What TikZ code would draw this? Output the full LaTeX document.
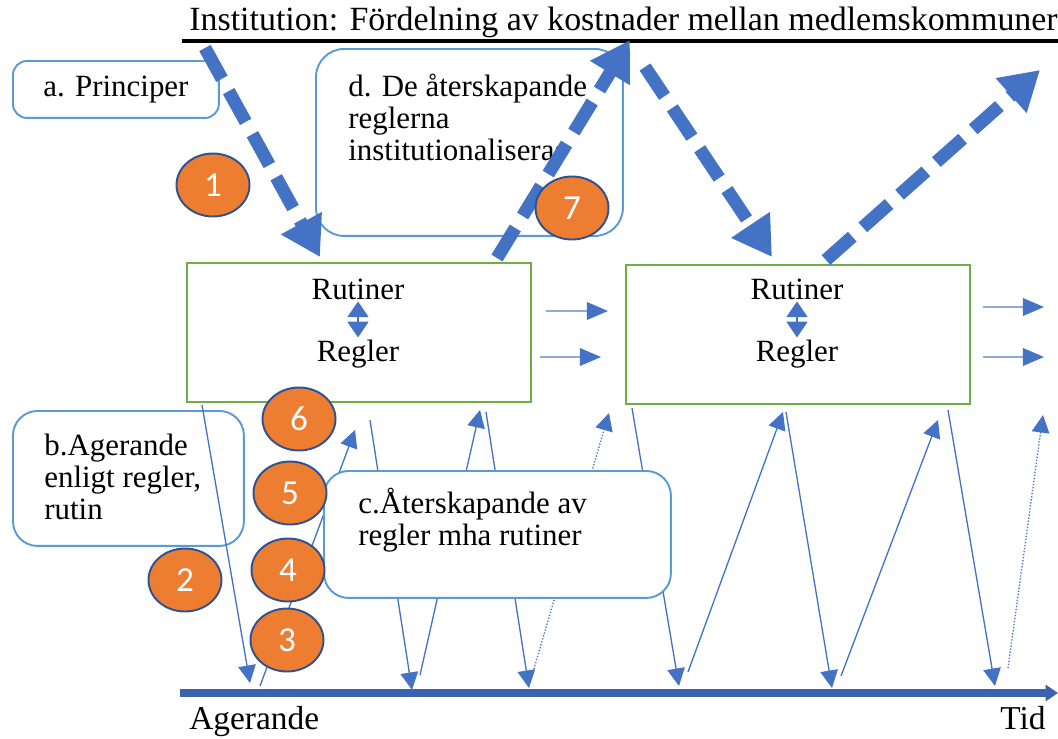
\documentclass[tikz,border=0pt]{standalone}
\usepackage{fontspec}
\setmainfont{Liberation Serif}
\newfontfamily\numfont{Carlito}
\usetikzlibrary{arrows.meta,shapes.geometric}

\definecolor{accblue}{HTML}{4472C4}
\definecolor{paleblue}{HTML}{8FAADC}
\definecolor{boxblue}{HTML}{5B9BD5}
\definecolor{boxgreen}{HTML}{70AD47}
\definecolor{numorange}{HTML}{ED7D31}
\definecolor{numedge}{HTML}{2F528F}
\definecolor{axisblue}{HTML}{3A62AE}

\newcommand{\boxsize}{\fontsize{17.6}{18.1}\selectfont}

\begin{document}
\begin{tikzpicture}[x=0.02cm, y=-0.02cm,
    info/.style = {draw=boxblue, line width=1.1pt, fill=white, rounded corners=14pt, anchor=north west, inner sep=0pt, font=\boxsize},
    boxtext/.style = {anchor=north west, inner sep=0pt, align=left, font=\boxsize},
    state/.style = {draw=boxgreen, line width=1.4pt, anchor=north west, minimum width=6.88cm, minimum height=2.78cm},
    lbl/.style = {anchor=base, inner sep=1pt, font=\boxsize},
    num/.style = {ellipse, draw=numedge, line width=1.1pt, fill=numorange, minimum width=1.46cm, minimum height=1.26cm, inner sep=0pt, text=white, font=\numfont\fontsize{20}{20}\selectfont},
    bigdash/.style = {draw=accblue, line width=7.4pt, dash pattern=on 20pt off 8pt, -{Triangle[length=22pt,width=25pt]}},
    zig/.style = {draw=accblue, line width=0.75pt, -{Triangle[length=10pt,width=10pt]}},
    rightflow/.style = {draw=paleblue, line width=1pt, -{Triangle[length=12pt,width=10pt,color=accblue]}},
    dbl/.style = {draw=accblue, line width=0.9pt, {Triangle[length=9pt,width=12pt]}-{Triangle[length=9pt,width=12pt]}}]

    \path[fill=white, use as bounding box] (0,0) rectangle (1058,738);

    % title
    \node[anchor=base west, inner sep=0pt, font=\fontsize{19.3}{20}\selectfont] (title) at (189,30) {Institution: Fördelning av kostnader mellan medlemskommuner};
    \coordinate (ul1) at (182,41);
    \coordinate (ul2) at (1058,41);
    \draw[line width=1.8pt] (ul1) -- (ul2);

    % time axis
    \coordinate (ax0) at (180,693);
    \coordinate (ax1) at (1058,693);
    \draw[axisblue, line width=4.2pt, -{Triangle[length=7pt,width=9pt]}] (ax0) -- (ax1);
    \node[anchor=base west, inner sep=0pt, font=\fontsize{19}{19}\selectfont] (ager) at (189,729) {Agerande};
    \node[anchor=base west, inner sep=0pt, font=\fontsize{19}{19}\selectfont] (tid) at (1000,729) {Tid};

    % b box, under the first arrow
    \node[info, minimum width=4.62cm, minimum height=2.70cm] (boxb) at (12,410) {};
    \node[boxtext] (txtb) at (44,434) {b.Agerande\\enligt regler,\\rutin};

    % zigzag between acting and rules
    \coordinate (s1) at (202,405);  \coordinate (e1) at (250,683);
    \coordinate (s2) at (260,686);  \coordinate (e2) at (355,430);
    \coordinate (s3) at (370,420);  \coordinate (e3) at (412,690);
    \coordinate (s4) at (420,675);  \coordinate (e4) at (480,410);
    \coordinate (s5) at (486,412);  \coordinate (e5) at (529,688);
    \coordinate (s6) at (533,672);  \coordinate (e6) at (609,413);
    \coordinate (s7) at (632,408);  \coordinate (e7) at (679,686);
    \coordinate (s8) at (688,672);  \coordinate (e8) at (783,412);
    \coordinate (s9) at (786,412);  \coordinate (e9) at (832,688);
    \coordinate (s10) at (841,676); \coordinate (e10) at (938,420);
    \coordinate (s11) at (948,410); \coordinate (e11) at (995,686);
    \coordinate (s12) at (1008,668); \coordinate (e12) at (1043,415);

    \draw[zig] (s1) -- (e1);
    \draw[zig] (s2) -- (e2);
    \draw[zig] (s3) -- (e3);
    \draw[zig] (s4) -- (e4);
    \draw[zig] (s5) -- (e5);
    \draw[zig, densely dotted] (s6) -- (e6);
    \draw[zig] (s7) -- (e7);
    \draw[zig] (s8) -- (e8);
    \draw[zig] (s9) -- (e9);
    \draw[zig] (s10) -- (e10);
    \draw[zig] (s11) -- (e11);
    \draw[zig, densely dotted] (s12) -- (e12);

    % rule boxes
    \node[state] (rules1) at (186,262) {};
    \node[state] (rules2) at (625,264) {};
    \node[lbl] (rut1) at (358,299) {Rutiner};
    \node[lbl] (reg1) at (358,361) {Regler};
    \node[lbl] (rut2) at (797,299) {Rutiner};
    \node[lbl] (reg2) at (797,361) {Regler};
    \draw[dbl] (rut1) -- (reg1);
    \draw[dbl] (rut2) -- (reg2);

    \coordinate (h1s) at (546,311);  \coordinate (h1e) at (608,311);
    \coordinate (h2s) at (540,357);  \coordinate (h2e) at (601,357);
    \coordinate (h3s) at (983,307);  \coordinate (h3e) at (1044,307);
    \coordinate (h4s) at (983,357);  \coordinate (h4e) at (1044,357);
    \draw[rightflow] (h1s) -- (h1e);
    \draw[rightflow] (h2s) -- (h2e);
    \draw[rightflow] (h3s) -- (h3e);
    \draw[rightflow] (h4s) -- (h4e);

    % text boxes
    \node[info, rounded corners=8pt, minimum width=4.12cm, minimum height=1.14cm] (princ) at (12,60) {a. Principer};
    \node[info, rounded corners=16pt, minimum width=6.14cm, minimum height=3.74cm] (boxd) at (315,48) {};
    \node[boxtext] (txtd) at (348,74) {d. De återskapande\\reglerna\\institutionaliseras};
    \node[info, minimum width=6.94cm, minimum height=2.54cm] (boxc) at (323,470) {};
    \node[boxtext] (txtc) at (358,488) {c.Återskapande av\\regler mha rutiner};

    % institution level
    \coordinate (d1s) at (205,48);  \coordinate (d1e) at (320,257);
    \coordinate (d2s) at (497,258); \coordinate (d2e) at (630,40);
    \coordinate (d3s) at (645,67);  \coordinate (d3e) at (772,257);
    \coordinate (d4s) at (826,260); \coordinate (d4e) at (1040,70);
    \draw[bigdash] (d1s) -- (d1e);
    \draw[bigdash] (d2s) -- (d2e);
    \draw[bigdash] (d3s) -- (d3e);
    \draw[bigdash] (d4s) -- (d4e);

    % steps
    \node[num] (n1) at (213,185) {1};
    \node[num] (n2) at (185,580) {2};
    \node[num] (n3) at (287,640) {3};
    \node[num] (n4) at (288,570) {4};
    \node[num] (n5) at (290,493) {5};
    \node[num] (n6) at (299,419) {6};
    \node[num] (n7) at (572,208) {7};
\end{tikzpicture}
\end{document}
